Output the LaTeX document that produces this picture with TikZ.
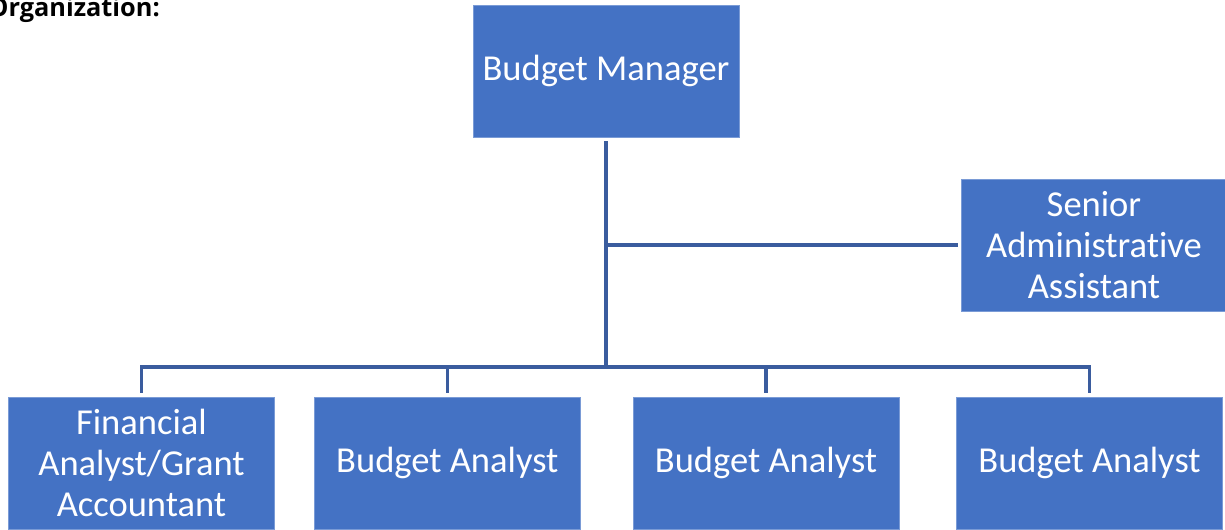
\documentclass[tikz,border=0pt]{standalone}
\usepackage{fontspec}
\setmainfont[Ligatures=NoCommon]{Carlito}
\newfontfamily\titlefont[Ligatures=NoCommon]{Open Sans}
\definecolor{boxblue}{HTML}{4472C4}
\definecolor{boxedge}{HTML}{7A9BD6}
\definecolor{linkblue}{HTML}{3A5C9E}
\begin{document}
\begin{tikzpicture}[x=0.75pt,y=-0.75pt,
  orgbox/.style={rectangle, fill=boxblue, draw=boxedge, line width=0.6pt,
    minimum width=266*0.75pt, minimum height=132*0.75pt, inner sep=0pt,
    text=white, align=center, font=\fontsize{27.4}{30.75}\selectfont},
  conn/.style={draw=linkblue, line width=2.4pt, line join=miter}]
\useasboundingbox (0,0) rectangle (1225,529);
\node[font=\titlefont\fontsize{19}{22}\selectfont\bfseries, anchor=base east, inner sep=0pt] (title) at (160,16.7) {Organization:};
\node[orgbox] (bm) at (606,71) {Budget Manager};
\node[orgbox] (sa) at (1094,245) {Senior\\Administrative\\Assistant};
\node[orgbox] (fa) at (141.5,463) {Financial\\Analyst/Grant\\Accountant};
\node[orgbox] (ba1) at (447.3,463) {Budget Analyst};
\node[orgbox] (ba2) at (766,463) {Budget Analyst};
\node[orgbox] (ba3) at (1089.5,463) {Budget Analyst};
\coordinate (bus) at (606,367);
\coordinate (jn) at (606,245);
\draw[conn, shorten <=3pt] (bm.south) -- (bus);
\draw[conn, shorten >=2.3pt] (jn) -- (sa.west);
\draw[conn, shorten <=3pt, shorten >=3pt] (fa.north) -- (fa.north |- bus) -- (ba3.north |- bus) -- (ba3.north);
\draw[conn, shorten >=3pt] (ba1.north |- bus) -- (ba1.north);
\draw[conn, shorten >=3pt] (ba2.north |- bus) -- (ba2.north);
\end{tikzpicture}
\end{document}
